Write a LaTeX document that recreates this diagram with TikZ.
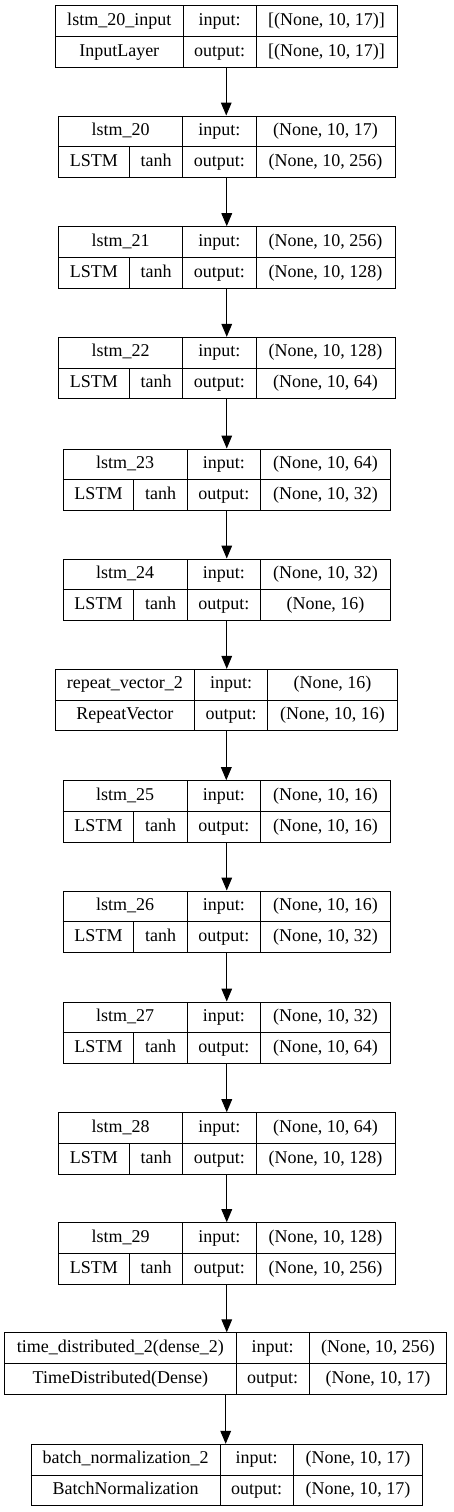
\documentclass[tikz,border=0pt]{standalone}
\usepackage{fontspec}
\setmainfont{Liberation Serif}
\usetikzlibrary{arrows.meta}

\tikzset{
  frame/.style={draw, line width=1pt, inner sep=0pt, minimum height=61.4pt},
  rule/.style={line width=1pt},
  cell/.style={inner sep=0pt, text height=12.6pt, text depth=4pt, font=\fontsize{18}{20}\selectfont},
  flow/.style={line width=1pt, -{Triangle[length=13pt, width=10.7pt]}},
}

% #1 name, #2 top, #3 left, #4 first divider, #5 second divider, #6 right
\newcommand{\layerframe}[6]{%
  \node[frame, minimum width={(#6-#3)*1pt}] (#1) at ({(#3+#6)/2}, {#2+30.7}) {};
  \draw[rule] (#1.west) -- (#1.east);
  \draw[rule] (#4, #2) -- (#4, {#2+61.4});
  \draw[rule] (#5, #2) -- (#5, {#2+61.4});
  \coordinate (#1-c1) at ({(#3+#4)/2}, {#2+15.35});
  \coordinate (#1-c2) at ({(#4+#5)/2}, {#2+15.35});
  \coordinate (#1-c3) at ({(#5+#6)/2}, {#2+15.35});
  \coordinate (#1-d1) at ({(#3+#4)/2}, {#2+46.05});
  \coordinate (#1-d2) at ({(#4+#5)/2}, {#2+46.05});
  \coordinate (#1-d3) at ({(#5+#6)/2}, {#2+46.05});
}

\begin{document}
\begin{tikzpicture}[x=1pt, y=-1pt]
\useasboundingbox (0,0) rectangle (453,1512);

% input
\layerframe{in}{5.7}{55.5}{183}{256}{397}
\node[cell] (in-title) at (in-c1) {lstm\_20\_input};
\node[cell] (in-kind) at (in-d1) {InputLayer};
\node[cell] (in-i) at (in-c2) {input:};
\node[cell] (in-o) at (in-d2) {output:};
\node[cell] (in-ishape) at (in-c3) {[(None, 10, 17)]};
\node[cell] (in-oshape) at (in-d3) {[(None, 10, 17)]};

% lstm layers
\foreach \n/\t/\s/\inp/\outp in {
  20/116/0/{(None, 10, 17)}/{(None, 10, 256)},
  21/226.7/0/{(None, 10, 256)}/{(None, 10, 128)},
  22/337.3/0/{(None, 10, 128)}/{(None, 10, 64)},
  23/449/4.6/{(None, 10, 64)}/{(None, 10, 32)},
  24/559/4.6/{(None, 10, 32)}/{(None, 16)},
  25/780.7/4.6/{(None, 10, 16)}/{(None, 10, 16)},
  26/891/4.6/{(None, 10, 16)}/{(None, 10, 32)},
  27/1002/4.6/{(None, 10, 32)}/{(None, 10, 64)},
  28/1112.7/0/{(None, 10, 64)}/{(None, 10, 128)},
  29/1222.7/0/{(None, 10, 128)}/{(None, 10, 256)}}{
  \pgfmathsetmacro\xl{58.5+\s}
  \pgfmathsetmacro\xa{129.3+\s}
  \pgfmathsetmacro\xb{182.7+\s}
  \pgfmathsetmacro\xc{256+\s}
  \pgfmathsetmacro\xr{395-\s}
  \layerframe{l\n}{\t}{\xl}{\xb}{\xc}{\xr}
  \draw[rule] (\xa, \t+30.7) -- (\xa, \t+61.4);
  \node[cell] (l\n-title) at (l\n-c1) {lstm\_\n};
  \node[cell] (l\n-kind) at ({(\xl+\xa)/2}, \t+46.05) {LSTM};
  \node[cell] (l\n-act) at ({(\xa+\xb)/2}, \t+46.05) {tanh};
  \node[cell] (l\n-i) at (l\n-c2) {input:};
  \node[cell] (l\n-o) at (l\n-d2) {output:};
  \node[cell] (l\n-ishape) at (l\n-c3) {\inp};
  \node[cell] (l\n-oshape) at (l\n-d3) {\outp};
}

% repeat vector
\layerframe{rv}{669.3}{55.3}{194.3}{267.7}{397.3}
\node[cell] (rv-title) at (rv-c1) {repeat\_vector\_2};
\node[cell] (rv-kind) at (rv-d1) {RepeatVector};
\node[cell] (rv-i) at (rv-c2) {input:};
\node[cell] (rv-o) at (rv-d2) {output:};
\node[cell] (rv-ishape) at (rv-c3) {(None, 16)};
\node[cell] (rv-oshape) at (rv-d3) {(None, 10, 16)};

% time distributed dense
\layerframe{td}{1332.8}{4.7}{236}{309.3}{446.7}
\node[cell] (td-title) at (td-c1) {time\_distributed\_2(dense\_2)};
\node[cell] (td-kind) at (td-d1) {TimeDistributed(Dense)};
\node[cell] (td-i) at (td-c2) {input:};
\node[cell] (td-o) at (td-d2) {output:};
\node[cell] (td-ishape) at (td-c3) {(None, 10, 256)};
\node[cell] (td-oshape) at (td-d3) {(None, 10, 17)};

% batch normalization
\layerframe{bn}{1444.3}{31}{220}{293.3}{422.7}
\node[cell] (bn-title) at (bn-c1) {batch\_normalization\_2};
\node[cell] (bn-kind) at (bn-d1) {BatchNormalization};
\node[cell] (bn-i) at (bn-c2) {input:};
\node[cell] (bn-o) at (bn-d2) {output:};
\node[cell] (bn-ishape) at (bn-c3) {(None, 10, 17)};
\node[cell] (bn-oshape) at (bn-d3) {(None, 10, 17)};

% arrows
\foreach \a/\b in {in/l20, l20/l21, l21/l22, l22/l23, l23/l24, l24/rv, rv/l25,
  l25/l26, l26/l27, l27/l28, l28/l29, l29/td, td/bn}
  \draw[flow] (\a.south) -- (\a.south |- \b.north);
\end{tikzpicture}
\end{document}
